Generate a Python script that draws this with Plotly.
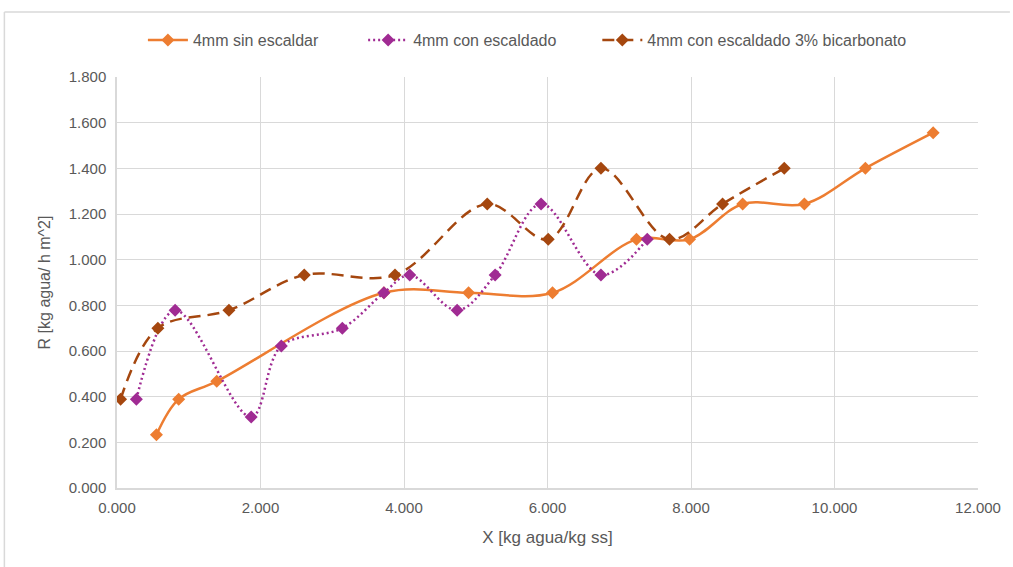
import plotly.graph_objects as go

# Data
x_sin = [0.55, 0.86, 1.39, 3.72, 4.90, 6.07, 7.24, 7.98, 8.72, 9.58, 10.43, 11.375]
y_sin = [0.233, 0.389, 0.467, 0.855, 0.855, 0.855, 1.089, 1.089, 1.244, 1.244, 1.400, 1.556]

x_con = [0.27, 0.81, 1.87, 2.29, 3.14, 3.72, 4.08, 4.74, 5.27, 5.91, 6.745, 7.39]
y_con = [0.389, 0.778, 0.311, 0.622, 0.700, 0.855, 0.933, 0.778, 0.933, 1.244, 0.933, 1.089]

x_bic = [0.05, 0.57, 1.56, 2.61, 3.875, 5.16, 6.01, 6.745, 7.70, 8.44, 9.30]
y_bic = [0.389, 0.700, 0.778, 0.933, 0.933, 1.244, 1.089, 1.400, 1.089, 1.244, 1.400]

names = ["4mm sin escaldar", "4mm con escaldado", "4mm con escaldado 3% bicarbonato"]
x_ticks = [0, 2, 4, 6, 8, 10, 12]
y_ticks = [0, 0.2, 0.4, 0.6, 0.8, 1.0, 1.2, 1.4, 1.6, 1.8]

ORANGE = "#ED7D31"
PURPLE = "#A02B93"
BROWN = "#A5470F"
TXT = "#595959"
GRID = "#D9D9D9"
FONT = "Liberation Sans, Arial, sans-serif"

L, R, T, B = 117, 32, 77, 79
W, H = 1013, 567
pw, ph = W - L - R, H - T - B

def px_x(p):
    return (p - L) / pw

def px_y(p):
    return (H - B - p) / ph

fig = go.Figure()
fig.add_trace(go.Scatter(x=x_sin, y=y_sin, name=names[0], mode="lines+markers", legend="legend",
                         showlegend=True,
                         line=dict(color=ORANGE, width=2.5, shape="spline", smoothing=1.0),
                         marker=dict(symbol="diamond", size=10, color=ORANGE)))
fig.add_trace(go.Scatter(x=x_con, y=y_con, name=names[1], mode="lines+markers", legend="legend2",
                         showlegend=True,
                         line=dict(color=PURPLE, width=2.5, shape="spline", smoothing=1.0, dash="2px,3px"),
                         marker=dict(symbol="diamond", size=10, color=PURPLE)))
fig.add_trace(go.Scatter(x=x_bic, y=y_bic, name=names[2], mode="lines+markers", legend="legend3",
                         showlegend=True,
                         line=dict(color=BROWN, width=2.5, shape="spline", smoothing=1.0, dash="12px,7px"),
                         marker=dict(symbol="diamond", size=10, color=BROWN)))

def leg(xpx):
    return dict(orientation="h", x=px_x(xpx), xanchor="left", y=px_y(40), yanchor="middle",
                font=dict(size=16, color=TXT), itemwidth=40, bgcolor="rgba(0,0,0,0)")

fig.update_layout(
    width=W, height=H,
    showlegend=True,
    margin=dict(l=L, r=R, t=T, b=B, pad=0),
    paper_bgcolor="white", plot_bgcolor="white",
    font=dict(family=FONT, color=TXT, size=14),
    legend=leg(143), legend2=leg(364), legend3=leg(599),
    xaxis=dict(range=[0, 12], tickvals=x_ticks, tickformat=".3f", showgrid=True, gridcolor=GRID,
               gridwidth=1, zeroline=False, showline=True, linecolor=GRID, linewidth=1.5,
               ticks="", tickfont=dict(size=15, color=TXT), ticklabelstandoff=5,
               title=dict(text="X [kg agua/kg ss]", font=dict(size=17, color=TXT), standoff=16)),
    yaxis=dict(range=[0, 1.8], tickvals=y_ticks, tickformat=".3f", showgrid=True, gridcolor=GRID,
               gridwidth=1, zeroline=False, showline=True, linecolor=GRID, linewidth=1.5,
               ticks="", tickfont=dict(size=15, color=TXT), ticklabelstandoff=6,
               title=dict(text="R [kg agua/ h m^2]", font=dict(size=16, color=TXT), standoff=14)),
    shapes=[
        dict(type="line", xref="paper", yref="paper", x0=px_x(4), x1=px_x(1013), y0=px_y(12), y1=px_y(12),
             line=dict(color=GRID, width=1.5)),
        dict(type="line", xref="paper", yref="paper", x0=px_x(4), x1=px_x(4), y0=px_y(12), y1=px_y(567),
             line=dict(color=GRID, width=1.5)),
    ],
)

fig.write_html("out.html")
